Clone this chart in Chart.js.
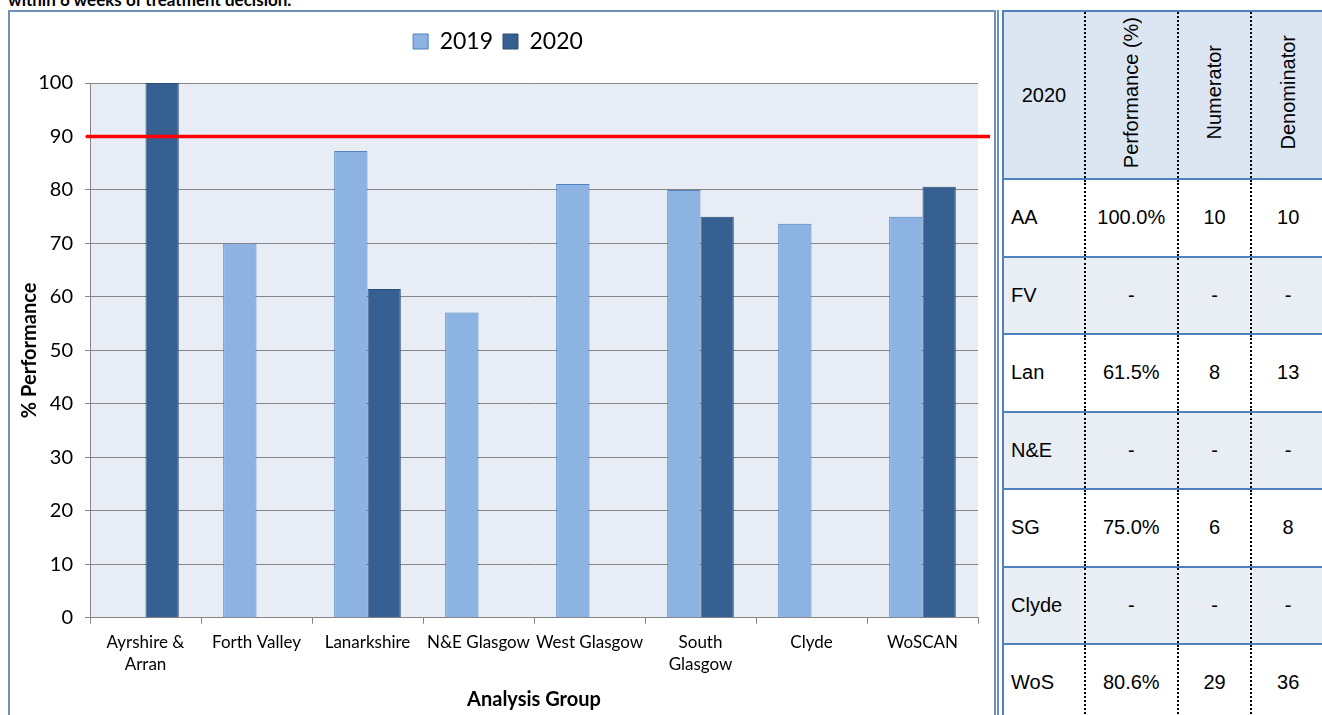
<!DOCTYPE html>
<html>
<head>
<meta charset="utf-8">
<script src="https://cdn.jsdelivr.net/npm/chart.js@4"></script>
<style>
    body { margin: 0; width: 1322px; height: 715px; overflow: hidden; background: #fff; position: relative; font-family: Lato, sans-serif; }
    #caption { position: absolute; left: 8px; top: -11px; font: bold 17px Lato, sans-serif; color: #000; white-space: nowrap; }
    #chart-box { position: absolute; left: 8px; top: 10px; width: 984px; height: 720px; border: 2px solid #6f8fba; border-bottom: none; background: #fff; }
    #chart-wrap { position: absolute; left: 0; top: 0; width: 984px; height: 705px; }
    #table-box { position: absolute; left: 997px; top: 10px; width: 325px; height: 720px; border-left: 2px solid #6f8fba; }
    #stats { position: absolute; left: 3px; top: 0; border-collapse: collapse; font: 20px "Liberation Sans", Arial, sans-serif; color: #000; table-layout: fixed; }
    #stats td, #stats th { border-top: 2px solid #4f81bd; border-bottom: 2px solid #4f81bd; border-left: 2px dotted #000; padding: 0; font-weight: normal; text-align: center; }
    #stats tr > td:first-child { border-left: 2px solid #4f81bd; text-align: left; padding-left: 7px; }
    #stats tr > th:first-child { border-left: 2px solid #4f81bd; }
    #stats th { height: 166px; background: #dce6f2; }
    #stats td { height: 75.5px; }
    #stats tr.alt td { background: #e9edf4; }
    #stats tr.plain td { background: #fff; }
    .vert { writing-mode: vertical-rl; transform: rotate(180deg); display: inline-block; }
</style>
</head>
<body>
<div id="caption">within 6 weeks of treatment decision.</div>
<div id="chart-box"><div id="chart-wrap"><canvas id="perfChart"></canvas></div></div>
<div id="table-box">
    <table id="stats">
        <colgroup><col style="width:82px"><col style="width:93px"><col style="width:74px"><col style="width:73px"></colgroup>
        <thead><tr id="stats-head"></tr></thead>
        <tbody id="stats-body"></tbody>
    </table>
</div>
<script>
const categories = [['Ayrshire &', 'Arran'], 'Forth Valley', 'Lanarkshire', 'N&E Glasgow', 'West Glasgow', ['South', 'Glasgow'], 'Clyde', 'WoSCAN'];
const values2019 = [null, 70, 87.3, 57.1, 81.1, 80, 73.7, 75];
const values2020 = [100, null, 61.5, null, null, 75, null, 80.6];
const targetValue = 90;

const tableHeaders = ['2020', 'Performance (%)', 'Numerator', 'Denominator'];
const tableGroups = ['AA', 'FV', 'Lan', 'N&E', 'SG', 'Clyde', 'WoS'];
const tablePerformance = ['100.0%', '-', '61.5%', '-', '75.0%', '-', '80.6%'];
const tableNumerator = ['10', '-', '8', '-', '6', '-', '29'];
const tableDenominator = ['10', '-', '13', '-', '8', '-', '36'];

// Table on the right
const head = document.getElementById('stats-head');
tableHeaders.forEach((h, i) => {
    const th = document.createElement('th');
    th.innerHTML = i === 0 ? h : '<span class="vert">' + h + '</span>';
    head.appendChild(th);
});
const body = document.getElementById('stats-body');
tableGroups.forEach((g, i) => {
    const row = document.createElement('tr');
    row.className = i % 2 === 1 ? 'alt' : 'plain';
    [g, tablePerformance[i], tableNumerator[i], tableDenominator[i]].forEach(v => {
        const td = document.createElement('td');
        td.textContent = v;
        row.appendChild(td);
    });
    body.appendChild(row);
});

// Plot area background
const plotBackground = {
    id: 'plotBackground',
    beforeDraw(chart) {
        const a = chart.chartArea;
        chart.ctx.save();
        chart.ctx.fillStyle = '#e8ecf4';
        chart.ctx.fillRect(a.left, a.top, a.right - a.left, a.bottom - a.top);
        chart.ctx.restore();
    }
};

// Extra room under the legend
const legendGap = {
    id: 'legendGap',
    beforeInit(chart) {
        const fit = chart.legend.fit;
        chart.legend.fit = function() {
            fit.bind(chart.legend)();
            this.height += 20;
        };
    }
};

// Red target line
const targetLine = {
    id: 'targetLine',
    afterDatasetsDraw(chart) {
        const a = chart.chartArea;
        const y = chart.scales.y.getPixelForValue(targetValue);
        const ctx = chart.ctx;
        ctx.save();
        ctx.strokeStyle = '#ff0000';
        ctx.lineWidth = 3.5;
        ctx.beginPath();
        ctx.moveTo(a.left - 4, y);
        ctx.lineTo(a.right + 12, y);
        ctx.stroke();
        ctx.restore();
    }
};

const ctx = document.getElementById('perfChart');
new Chart(ctx, {
    type: 'bar',
    data: {
        labels: categories,
        datasets: [{
            label: '2019',
            data: values2019,
            backgroundColor: '#8db3e2',
            borderColor: '#4f81bd',
            borderWidth: 1,
            categoryPercentage: 0.6,
            barPercentage: 1.0
        }, {
            label: '2020',
            data: values2020,
            backgroundColor: '#376092',
            borderColor: '#2c4d75',
            borderWidth: 1,
            categoryPercentage: 0.6,
            barPercentage: 1.0
        }]
    },
    options: {
        responsive: true,
        maintainAspectRatio: false,
        animation: false,
        layout: { padding: { left: 8, right: 16, top: 8, bottom: 5 } },
        plugins: {
            legend: {
                position: 'top',
                labels: {
                    boxWidth: 15,
                    boxHeight: 15,
                    padding: 10,
                    color: '#000',
                    font: { family: 'Lato', size: 23 }
                }
            },
            tooltip: { enabled: false }
        },
        scales: {
            x: {
                grid: { drawOnChartArea: false, drawTicks: true, tickLength: 6, color: '#868686', offset: true },
                border: { color: '#868686', width: 1 },
                ticks: { color: '#000', font: { family: 'Lato', size: 17, lineHeight: 1.3 }, maxRotation: 0, autoSkip: false, padding: 8 },
                title: { display: true, text: 'Analysis Group', color: '#000', font: { family: 'Lato', size: 20, weight: 'bold' }, padding: { top: 4, bottom: 0 } }
            },
            y: {
                min: 0,
                max: 100,
                afterFit(scale) { scale.width = 72; },
                ticks: { stepSize: 10, color: '#000', font: { family: 'Lato', size: 20 }, padding: 12 },
                grid: { color: '#868686', tickLength: 5 },
                border: { color: '#868686', width: 1 },
                title: { display: true, text: '% Performance', color: '#000', font: { family: 'Lato', size: 20, weight: 'bold' }, padding: { top: 0, bottom: 0 } }
            }
        }
    },
    plugins: [plotBackground, legendGap, targetLine]
});
</script>
</body>
</html>
